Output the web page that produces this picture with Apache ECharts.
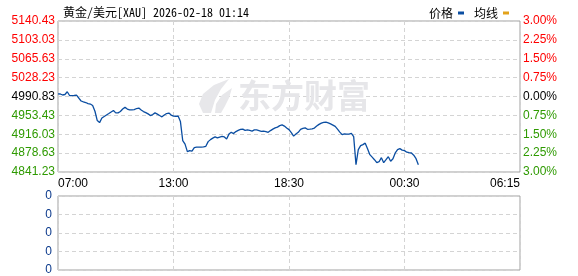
<!DOCTYPE html>
<html>
<head>
<meta charset="utf-8">
<script src="https://cdn.jsdelivr.net/npm/echarts@6/dist/echarts.min.js"></script>
<style>
html,body{margin:0;padding:0;background:#fff;}
#chart{width:578px;height:276px;}
</style>
</head>
<body>
<div id="chart"></div>
<script>
// ---- data ----
const chartTitle = '黄金/美元[XAU] 2026-02-18 01:14';
const legendNames = ['价格', '均线'];
const timeTicks = ['07:00', '13:00', '18:30', '00:30', '06:15'];
const priceTicks = ['4841.23', '4878.63', '4916.03', '4953.43', '4990.83', '5028.23', '5065.63', '5103.03', '5140.43'];
const pctTicks = ['3.00%', '2.25%', '1.50%', '0.75%', '0.00%', '0.75%', '1.50%', '2.25%', '3.00%'];
const volTicks = ['0', '0', '0', '0', '0'];
const priceMin = 4841.23;
const priceMax = 5140.43;
const slotCount = 200;
const prices = [
  4996.2, 4995.8, 4993.8, 4994.8, 5000.2, 4992.8, 4992.6, 4992.9, 4993.4, 4987.8,
  4981.9, 4980.3, 4978.9, 4976.9, 4975.9, 4972.9, 4961.6, 4943.1, 4939.1, 4948.1,
  4951.1, 4954.1, 4957.0, 4960.0, 4963.0, 4958.4, 4958.4, 4961.0, 4966.0, 4969.6,
  4966.0, 4964.4, 4964.4, 4965.0, 4967.0, 4968.0, 4964.0, 4961.0, 4959.0, 4956.4,
  4953.1, 4955.1, 4958.4, 4956.0, 4953.1, 4950.5, 4954.1, 4957.0, 4958.0, 4954.1,
  4952.1, 4951.7, 4952.1, 4941.1, 4903.4, 4896.4, 4881.5, 4883.5, 4882.5, 4889.5,
  4890.5, 4890.5, 4890.5, 4890.9, 4892.1, 4901.4, 4905.4, 4908.3, 4910.7, 4908.7,
  4910.3, 4911.9, 4910.7, 4906.8, 4916.3, 4919.9, 4917.3, 4921.3, 4923.6, 4925.6,
  4926.2, 4923.8, 4924.8, 4923.6, 4922.3, 4924.6, 4924.6, 4923.3, 4921.9, 4922.3,
  4921.3, 4919.9, 4923.3, 4926.2, 4928.6, 4930.2, 4933.2, 4934.6, 4932.2, 4928.6,
  4925.2, 4919.3, 4912.3, 4916.3, 4919.9, 4925.6, 4927.6, 4928.6, 4925.8, 4926.2,
  4926.8, 4928.2, 4932.2, 4935.6, 4938.2, 4939.7, 4940.1, 4938.6, 4936.6, 4934.2,
  4931.6, 4926.2, 4920.3, 4915.3, 4916.9, 4916.3, 4916.3, 4917.7, 4911.3, 4855.7,
  4885.5, 4893.4, 4895.4, 4898.4, 4887.5, 4875.6, 4870.6, 4865.6, 4859.7, 4861.6,
  4869.6, 4859.7, 4865.6, 4871.6, 4862.6, 4867.6, 4878.9, 4885.5, 4887.5, 4884.5,
  4883.5, 4880.5, 4879.5, 4878.9, 4874.6, 4867.6, 4855.7
];
const avgLine = [];

// ---- styles ----
const RED = '#ff0000', GREEN = '#2e9a00', BLACK = '#000000';
const levelColor = function (v) { return v > 4 ? RED : (v < 4 ? GREEN : BLACK); };
const dashLine = { show: true, lineStyle: { color: '#d4d4d4', type: [4, 3], width: 1 } };
const labelFont = 'Liberation Sans, Arial, sans-serif';

const chart = echarts.init(document.getElementById('chart'), null, { renderer: 'canvas' });
chart.setOption({
  animation: false,
  backgroundColor: '#ffffff',
  title: {
    text: chartTitle, left: 58, top: 1,
    textStyle: { fontSize: 12, fontWeight: 'normal', color: '#000', fontFamily: "'Noto Sans Mono CJK SC', 'Noto Sans CJK SC', monospace" }
  },
  legend: {
    data: [
      { name: legendNames[0], itemStyle: { color: '#0b4ea2' } },
      { name: legendNames[1], itemStyle: { color: '#e3a21a' } }
    ],
    right: 64, top: 2, align: 'right', icon: 'rect', itemWidth: 6, itemHeight: 3, itemGap: 10,
    selectedMode: false,
    textStyle: { fontSize: 12, color: '#000', fontFamily: "'Noto Sans CJK SC', sans-serif" }
  },
  graphic: [
    { type: 'polygon', z: 1, silent: true,
      shape: { points: [[203, 113], [199, 104], [203, 94], [214, 85], [229, 79], [221, 89], [215, 100], [211, 113]] },
      style: { fill: '#e7e7ea' } },
    { type: 'polygon', z: 1, silent: true,
      shape: { points: [[215, 113], [216, 104], [222, 95], [232, 88], [229, 98], [225, 106], [221, 113]] },
      style: { fill: '#e7e7ea' } },
    { type: 'text', z: 1, silent: true, left: 238, top: 79,
      style: { text: '东方财富', fill: '#e6e6e9', font: "bold 33px 'Noto Sans CJK SC', sans-serif" } }
  ],
  grid: [
    { left: 58, right: 58, top: 21, height: 151, show: true, borderColor: '#a0a0a0', borderWidth: 1, backgroundColor: 'transparent' },
    { left: 58, right: 58, top: 196, height: 74, show: true, borderColor: '#a0a0a0', borderWidth: 1, backgroundColor: 'transparent' }
  ],
  xAxis: [
    { type: 'value', gridIndex: 0, min: 0, max: slotCount, interval: slotCount / 4,
      axisLine: { show: false }, axisTick: { show: false }, splitLine: dashLine,
      axisLabel: { show: true, margin: 6, color: '#000', fontSize: 12, fontFamily: labelFont,
        alignMinLabel: 'left', alignMaxLabel: 'right',
        formatter: function (v) { return timeTicks[Math.round(v / (slotCount / 4))]; } } },
    { type: 'value', gridIndex: 1, min: 0, max: slotCount, interval: slotCount / 4,
      axisLine: { show: false }, axisTick: { show: false }, splitLine: dashLine,
      axisLabel: { show: false } }
  ],
  yAxis: [
    { type: 'value', gridIndex: 0, position: 'left', min: 0, max: 8, interval: 1,
      axisLine: { show: false }, axisTick: { show: false }, splitLine: dashLine,
      axisLabel: { margin: 3, fontSize: 12, fontFamily: labelFont,
        color: function (v) { return levelColor(Number(v)); },
        formatter: function (v) { return priceTicks[v]; } } },
    { type: 'value', gridIndex: 0, position: 'right', min: 0, max: 8, interval: 1,
      axisLine: { show: false }, axisTick: { show: false }, splitLine: { show: false },
      axisLabel: { margin: 3, fontSize: 12, fontFamily: labelFont,
        color: function (v) { return levelColor(Number(v)); },
        formatter: function (v) { return pctTicks[v]; } } },
    { type: 'value', gridIndex: 0, show: false, min: priceMin, max: priceMax,
      splitLine: { show: false } },
    { type: 'value', gridIndex: 1, position: 'left', min: 0, max: 4, interval: 1,
      axisLine: { show: false }, axisTick: { show: false }, splitLine: dashLine,
      axisLabel: { margin: 6, fontSize: 12, fontFamily: labelFont, color: '#0c3a8c',
        formatter: function (v) { return volTicks[v]; } } }
  ],
  series: [
    { name: legendNames[0], type: 'line', xAxisIndex: 0, yAxisIndex: 2, z: 5,
      data: prices.map(function (v, i) { return [i, v]; }),
      showSymbol: false, symbol: 'none', smooth: false,
      lineStyle: { color: '#0b4ea2', width: 1.3 }, itemStyle: { color: '#0b4ea2' } },
    { name: legendNames[1], type: 'line', xAxisIndex: 0, yAxisIndex: 2, z: 4,
      data: avgLine.map(function (v, i) { return [i, v]; }),
      showSymbol: false, symbol: 'none',
      lineStyle: { color: '#e3a21a', width: 1 }, itemStyle: { color: '#e3a21a' } }
  ]
});
</script>
</body>
</html>
